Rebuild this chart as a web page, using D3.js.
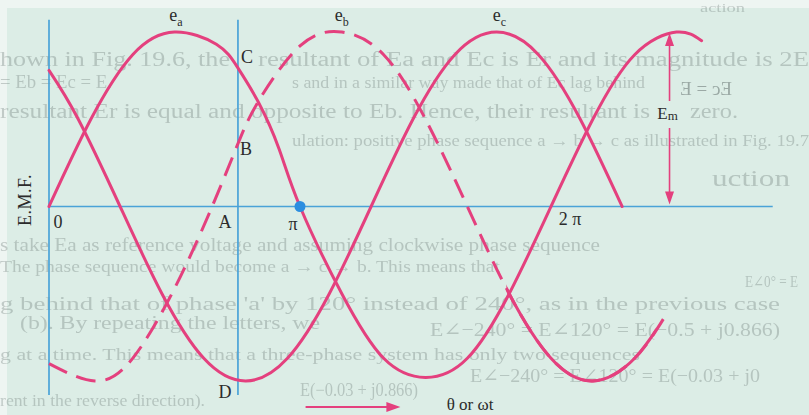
<!DOCTYPE html>
<html>
<head>
<meta charset="utf-8">
<script src="https://cdn.jsdelivr.net/npm/d3@7"></script>
<style>
body { margin: 0; background: #eef5f2; }
svg { display: block; }
text { font-family: "Liberation Serif", "DejaVu Serif", serif; }
</style>
</head>
<body>
<svg width="809" height="415"></svg>
<script>
// EMF of the three phases: [theta (deg), emf / Em]
var ea = [[0,0],[30,0.5],[60,0.87],[90,1],[120,0.93],[135,0.8],[150,0.6],[165,0.33],[180,0],
	[210,-0.5],[240,-0.87],[270,-0.98],[300,-0.87],[330,-0.5],[360,0],[390,0.5],[420,0.87],[450,1],[468,0.95]];
var eb = [[0,-0.9],[33,-1],[60,-0.87],[90,-0.47],[117,0],[135,0.35],[150,0.6],[180,0.92],[210,1],
	[240,0.87],[270,0.5],[300,0],[330,-0.5],[360,-0.87],[390,-1],[420,-0.87],[444,-0.6]];
var ec = [[0,0.78],[21,0.5],[51,0],[81,-0.5],[111,-0.87],[141,-1],[171,-0.87],[201,-0.5],[231,0],
	[261,0.5],[291,0.87],[321,1],[351,0.87],[381,0.5],[411,0]];

var ebSolid = [328, 435];          // stretch of e_b printed as a full line
var tickAngles = [0, 180, 360];
var tickLabels = ["0", "π", "2 π"];
var markAngle = 135.5;             // line through A, B, C, D
var axisEnd = 519;
var emAngle = 445;                 // Em arrow
var dirArrow = [184, 252];         // "theta or wt" arrow

// faint page text showing through the scan: [x0, x1, baseline, size, text]
var pageText = [
	[700, 745, 12, 13, "action"],
	[0, 230, 66, 20, "hown in Fig. 19.6, the"],
	[258, 809, 66, 20, "resultant of Ea and Ec is Er and its magnitude is 2E"],
	[0, 112, 88, 18, "= Eb = Ec = E."],
	[292, 645, 88, 16, "s and in a similar way made that of Ec lag behind"],
	[0, 650, 118, 20, "resultant Er is equal and opposite to Eb. Hence, their resultant is"],
	[690, 738, 118, 20, "zero."],
	[292, 809, 146, 16, "ulation: positive phase sequence a → b → c as illustrated in Fig. 19.7"],
	[712, 790, 186, 24, "uction"],
	[0, 600, 251, 18, "s take Ea as reference voltage and assuming clockwise phase sequence"],
	[0, 500, 272, 17, "The phase sequence would become a → c → b. This means that"],
	[745, 798, 287, 16, "E∠0° = E"],
	[0, 780, 310, 19, "g behind that of phase 'a' by 120° instead of 240°, as in the previous case"],
	[20, 320, 329, 18, "(b). By repeating the letters, we"],
	[430, 780, 336, 19, "E∠−240° = E∠120° = E(−0.5 + j0.866)"],
	[0, 640, 360, 17, "g at a time. This means that a three-phase system has only two sequences"],
	[470, 760, 382, 19, "E∠−240° = E∠120° = E(−0.03 + j0"],
	[300, 418, 396, 18, "E(−0.03 + j0.866)"],
	[0, 205, 406, 17, "rent in the reverse direction)."]
];

var pink = "#e4407e", blue = "#4aa3d8", ink = "#2b2b2b";

var svg = d3.select("svg");

var defs = svg.append("defs");
defs.append("filter").attr("id", "soft").append("feGaussianBlur").attr("stdDeviation", 0.7);

svg.append("rect").attr("x", 7).attr("y", 8).attr("width", 802).attr("height", 407)
	.attr("fill", "#dcede6");

// page text
var ghost = svg.append("g").attr("filter", "url(#soft)")
	.attr("fill", "#6f7d79").attr("fill-opacity", 0.36);
ghost.selectAll("text")
	.data(pageText)
	.enter().append("text")
	.attr("x", (d) => d[0])
	.attr("y", (d) => d[2])
	.attr("textLength", (d) => d[1] - d[0])
	.attr("lengthAdjust", "spacingAndGlyphs")
	.attr("font-size", (d) => d[3])
	.text((d) => d[4]);
// mirrored show-through
ghost.append("text")
	.attr("transform", "translate(732,95) scale(-1,1)")
	.attr("font-size", 19)
	.attr("fill-opacity", 0.6)
	.text("Ec = E");

var x = d3.scaleLinear().domain([0, 360]).range([49, 551]);
var y = d3.scaleLinear().domain([-1, 1]).range([381, 32]);

// axes
var g = svg.append("g").attr("stroke", blue).attr("stroke-width", 1.7);
g.append("line").attr("x1", x(0)).attr("x2", x(axisEnd)).attr("y1", y(0)).attr("y2", y(0));
[0, markAngle].forEach((a) => {
	g.append("line").attr("x1", x(a)).attr("x2", x(a)).attr("y1", y(1.07)).attr("y2", y(-1.08));
});

var line = d3.line()
	.x((d) => x(d[0]))
	.y((d) => y(d[1]))
	.curve(d3.curveNatural);

// clip for the solid part of e_b
defs.append("clipPath").attr("id", "solidB").append("rect")
	.attr("x", x(ebSolid[0])).attr("width", x(ebSolid[1]) - x(ebSolid[0]))
	.attr("y", 0).attr("height", 415);

var curves = svg.append("g")
	.attr("fill", "none")
	.attr("stroke", pink)
	.attr("stroke-width", 3)
	.attr("stroke-linecap", "round");

curves.append("path").attr("d", line(ea));
curves.append("path").attr("d", line(ec));
curves.append("path").attr("d", line(eb)).attr("stroke-dasharray", "20,10").attr("stroke-linecap", "butt");
curves.append("path").attr("d", line(eb)).attr("clip-path", "url(#solidB)");

// point pi
svg.append("circle").attr("cx", x(180)).attr("cy", y(0)).attr("r", 5.5).attr("fill", "#2c8ee0");

// curve names
var names = [["e", "a", 91], ["e", "b", 210], ["e", "c", 323]];
names.forEach((n) => {
	var t = svg.append("text")
		.attr("x", x(n[2])).attr("y", y(1) - 11)
		.attr("text-anchor", "middle")
		.attr("font-size", 18).attr("fill", ink)
		.text(n[0]);
	t.append("tspan").attr("dy", 5).attr("font-size", 12).text(n[1]);
});

// tick labels
svg.append("g").selectAll("text")
	.data(tickAngles)
	.enter().append("text")
	.attr("x", (d, i) => x(d) + [9, -7, 19][i])
	.attr("y", (d, i) => y(0) + [21, 23, 18][i])
	.attr("text-anchor", "middle")
	.attr("font-size", 18).attr("fill", ink)
	.text((d, i) => tickLabels[i]);

// A B C D
var pts = [["C", 247, 63], ["B", 246, 155], ["A", 225, 228], ["D", 225, 398]];
pts.forEach((p) => {
	svg.append("text").attr("x", p[1]).attr("y", p[2])
		.attr("text-anchor", "middle").attr("font-size", 18).attr("fill", ink).text(p[0]);
});

// E.M.F.
svg.append("text")
	.attr("transform", "translate(31,200) rotate(-90)")
	.attr("text-anchor", "middle")
	.attr("font-size", 18).attr("letter-spacing", 0.5).attr("fill", ink)
	.text("E.M.F.");

// Em arrow
var ex = x(emAngle);
var arr = svg.append("g").attr("stroke", pink).attr("stroke-width", 1.6);
arr.append("line").attr("x1", ex).attr("x2", ex).attr("y1", y(1) + 10).attr("y2", 101);
arr.append("line").attr("x1", ex).attr("x2", ex).attr("y1", 128).attr("y2", y(0) - 10);
svg.append("path").attr("fill", pink)
	.attr("d", "M" + ex + "," + (y(1) + 1) + "l-4.5,13h9z M" + ex + "," + (y(0) - 2) + "l-4.5,-13h9z");
var em = svg.append("text").attr("x", ex - 2).attr("y", 119)
	.attr("text-anchor", "middle").attr("font-size", 17).attr("fill", ink).text("E");
em.append("tspan").attr("dy", 1).attr("font-size", 13).text("m");

// direction arrow
var ay = 407;
svg.append("line").attr("x1", x(dirArrow[0])).attr("x2", x(dirArrow[1]) - 10)
	.attr("y1", ay).attr("y2", ay).attr("stroke", pink).attr("stroke-width", 2);
svg.append("path").attr("fill", pink)
	.attr("d", "M" + x(dirArrow[1]) + "," + ay + "l-14,-5v10z");
svg.append("text").attr("x", 470).attr("y", 410)
	.attr("text-anchor", "middle").attr("font-size", 17).attr("fill", ink).text("θ or ωt");
</script>
</body>
</html>
